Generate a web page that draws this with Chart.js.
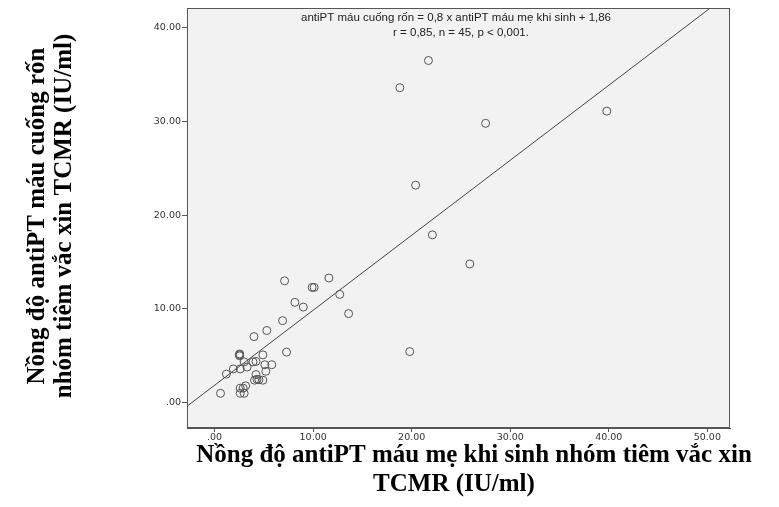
<!DOCTYPE html>
<html lang="vi">
<head>
<meta charset="UTF-8">
<title>antiPT scatter</title>
<script src="https://cdn.jsdelivr.net/npm/chart.js"></script>
<style>
  html, body { margin: 0; padding: 0; background: #fff; }
  #wrap { width: 779px; height: 507px; position: relative; }
</style>
</head>
<body>
<div id="wrap"><canvas id="c"></canvas></div>
<script>
// maternal antiPT at birth (x) vs cord blood antiPT (y), IU/ml
const motherValues = [0.6, 2.6, 3.0, 2.6, 2.9, 3.15, 4.05, 4.5, 4.9, 4.2, 5.2, 1.2, 1.9, 2.6, 3.3,
  3.0, 3.9, 4.2, 5.1, 5.8, 2.55, 2.55, 2.5, 4.9, 7.3, 4.0, 5.3, 6.9, 8.15, 9.0,
  7.1, 9.9, 10.1, 11.6, 12.7, 13.6, 19.8, 20.4, 22.1, 25.9, 27.5, 39.8, 18.8, 21.7, 4.3];
const cordValues = [1.0, 1.0, 1.0, 1.55, 1.55, 1.8, 2.4, 2.45, 2.4, 3.0, 3.35, 3.05, 3.6, 3.6, 3.8,
  4.35, 4.35, 4.4, 4.05, 4.05, 5.0, 5.2, 5.1, 5.1, 5.4, 7.05, 7.7, 8.75, 10.7, 10.2,
  13.0, 12.3, 12.3, 13.3, 11.55, 9.5, 5.45, 23.2, 17.9, 14.8, 29.8, 31.1, 33.6, 36.5, 2.5];
const tickValues = [0, 10, 20, 30, 40, 50];
const fitSlope = 0.8;
const fitIntercept = 1.86;
const noteLines = ['antiPT máu cuống rốn = 0,8 x antiPT máu mẹ khi sinh + 1,86',
  'r = 0,85, n = 45, p < 0,001.'];
const xTitle = ['Nồng độ antiPT máu mẹ khi sinh nhóm tiêm vắc xin', 'TCMR (IU/ml)'];
const yTitle = ['Nồng độ antiPT máu cuống rốn', 'nhóm tiêm vắc xin TCMR (IU/ml)'];

const xMin = -2.8, xMax = 52.3, yMin = -2.7, yMax = 42.1;

const points = motherValues.map((v, i) => ({ x: v, y: cordValues[i] }));
// fit line from left edge to where it leaves the top of the plot
const lineEndX = (yMax - fitIntercept) / fitSlope;
const fitLine = [xMin, lineEndX].map(x => ({ x: x, y: fitSlope * x + fitIntercept }));

function fmt(v) {
  return v.toFixed(2).replace(/^0\./, '.');
}

const framePlugin = {
  id: 'frame',
  beforeDraw(chart) {
    const a = chart.chartArea, ctx = chart.ctx;
    ctx.save();
    ctx.fillStyle = '#f2f2f2';
    ctx.fillRect(a.left, a.top, a.right - a.left, a.bottom - a.top);
    ctx.restore();
  },
  afterDraw(chart) {
    const a = chart.chartArea, ctx = chart.ctx;
    ctx.save();
    ctx.strokeStyle = '#555';
    ctx.lineWidth = 1;
    ctx.strokeRect(a.left + 0.5, a.top + 0.5, a.right - a.left - 1, a.bottom - a.top - 1);

    // regression note
    ctx.fillStyle = '#222';
    ctx.font = '11.5px "Liberation Sans", Arial, sans-serif';
    ctx.textAlign = 'center';
    ctx.textBaseline = 'middle';
    ctx.fillText(noteLines[0], 456, 18);
    ctx.fillText(noteLines[1], 461, 33);

    // axis titles
    ctx.fillStyle = '#000';
    ctx.font = 'bold 25px "Liberation Serif", "Times New Roman", serif';
    ctx.fillText(xTitle[0], 474, 456);
    ctx.fillText(xTitle[1], 454, 485);

    ctx.translate(38, 216);
    ctx.rotate(-Math.PI / 2);
    ctx.fillText(yTitle[0], 0, 0);
    ctx.fillText(yTitle[1], 0, 27);
    ctx.restore();
  }
};

new Chart(document.getElementById('c'), {
  type: 'scatter',
  data: {
    datasets: [
      {
        data: points,
        pointStyle: 'circle',
        pointRadius: 4,
        pointBorderWidth: 1,
        pointBorderColor: '#555',
        pointBackgroundColor: 'rgba(0,0,0,0)',
        showLine: false
      },
      {
        data: fitLine,
        showLine: true,
        borderColor: '#444',
        borderWidth: 1,
        pointRadius: 0,
        clip: true
      }
    ]
  },
  options: {
    responsive: true,
    maintainAspectRatio: false,
    animation: false,
    layout: { padding: { left: 0, right: 49, top: 8, bottom: 0 } },
    plugins: {
      legend: { display: false },
      tooltip: { enabled: false }
    },
    scales: {
      x: {
        type: 'linear',
        min: xMin,
        max: xMax,
        afterBuildTicks(scale) { scale.ticks = tickValues.map(v => ({ value: v })); },
        afterFit(scale) { scale.height = 79; },
        grid: { drawOnChartArea: false, drawTicks: true, tickLength: 4, color: '#555' },
        border: { display: true, color: '#555' },
        ticks: {
          callback: v => fmt(v),
          color: '#333',
          font: { family: '"DejaVu Sans", sans-serif', size: 9.5 },
          padding: 0,
          maxRotation: 0
        }
      },
      y: {
        type: 'linear',
        min: yMin,
        max: yMax,
        afterBuildTicks(scale) { scale.ticks = tickValues.slice(0, 5).map(v => ({ value: v })); },
        afterFit(scale) { scale.width = 187; },
        grid: { drawOnChartArea: false, drawTicks: true, tickLength: 5, color: '#555' },
        border: { display: true, color: '#555' },
        ticks: {
          callback: v => fmt(v),
          color: '#333',
          font: { family: '"DejaVu Sans", sans-serif', size: 9.5 },
          padding: 1
        }
      }
    }
  },
  plugins: [framePlugin]
});
</script>
</body>
</html>
